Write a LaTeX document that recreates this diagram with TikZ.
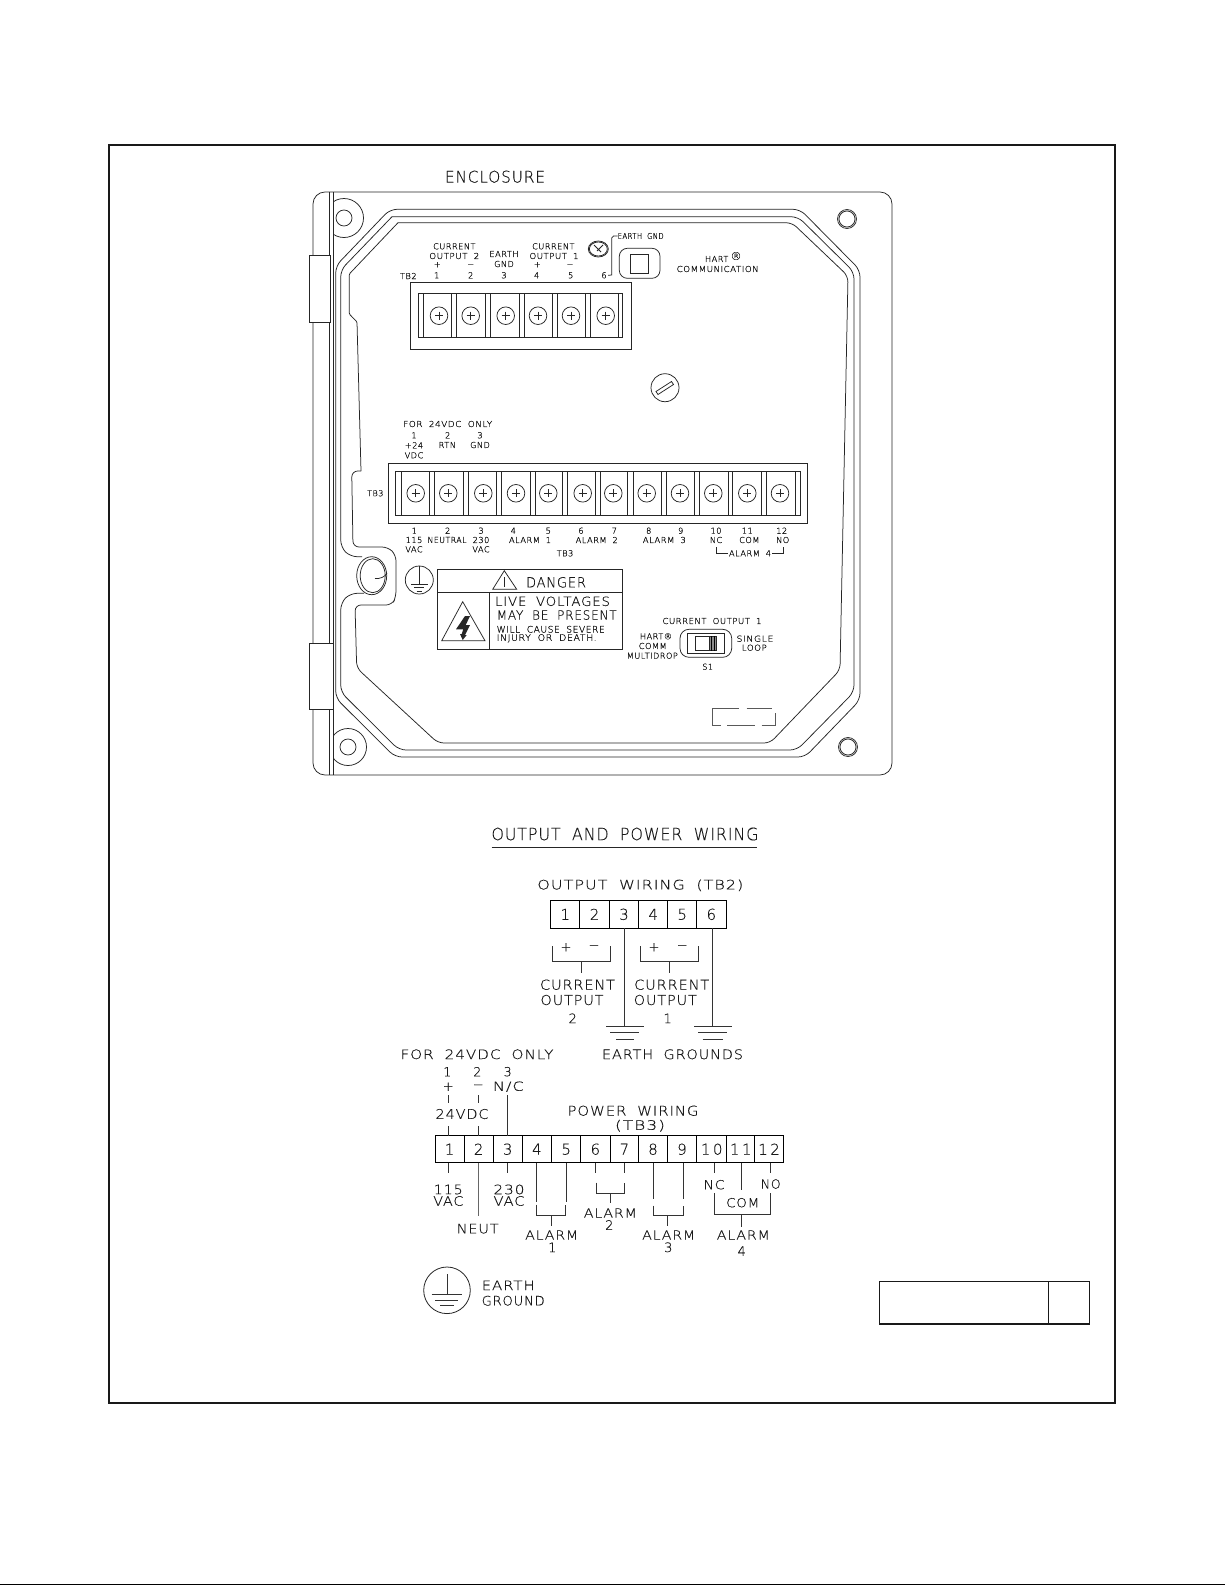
\documentclass[tikz,border=0pt]{standalone}
\usepackage{fontspec}
\usepackage{graphicx}
\newfontfamily\cad[LetterSpace=6,FakeBold=0.25,WordSpace=1.9]{DejaVu Sans ExtraLight}
\newfontfamily\cads[LetterSpace=6,FakeBold=0.6,WordSpace=1.9]{DejaVu Sans ExtraLight}
\newcommand\pickf[1]{\ifdim #1pt<10pt\relax\cads\else\cad\fi}
\newcommand\T[6][center]{\node (#2) [lab,anchor=#1] at (#3,#4) {\fontsize{#5}{#5}\selectfont\pickf{#5}#6};}
\newcommand\W[7][center]{\node (#2) [lab,anchor=#1] at (#3,#4) {\fontsize{#5}{#5}\selectfont\pickf{#5}\resizebox{#6pt}{\height}{#7}};}
\newcommand\Tm[7]{\node (#1) [term,minimum width={(#3-#2)*1pt},minimum height={(#5-#4)*1pt}] at ({(#2+#3)/2},{(#4+#5)/2}) {\fontsize{#6}{#6}\selectfont\cad #7};}
\newcommand\Sc[3]{\node (#1) [screw] at (#2,#3) {};\draw[ln] (#2-4,#3) -- (#2+4,#3) (#2,#3-4) -- (#2,#3+4);}
\tikzset{
 ln/.style={line width=0.75pt,draw=black!85},
 wire/.style={line width=0.8pt,draw=black!80},
 lab/.style={inner sep=0pt,outer sep=0pt,text=black!90},
 term/.style={draw=black,line width=1pt,inner sep=0pt,outer sep=0pt,text=black!90},
 screw/.style={draw=black!85,circle,line width=0.75pt,minimum size=17.6pt,inner sep=0pt,outer sep=0pt},
 frameln/.style={line width=2pt,draw=black!90},
}
\begin{document}
\begin{tikzpicture}[x=1pt,y=-1pt]
\useasboundingbox (0,0) rectangle (1225,1585);
\fill[white] (0,0) rectangle (1225,1585);
\fill[black] (0,1583.5) rectangle (1225,1585);
% frame
\draw[frameln] (109,144.7) rectangle (1115,1402.7);
\draw[line width=1.2pt,black!90] (879.3,1281.7) rectangle (1089.3,1324) (1048.3,1281.7) -- (1048.3,1324);
% ---------- enclosure ----------
\W{tEncl}{495}{176.7}{16}{100}{ENCLOSURE}
\draw[ln,rounded corners=12pt] (313,192) rectangle (892,775);
\draw[ln] (329,192) -- (329,775) (333,192) -- (333,775);
\draw[ln,fill=white] (309,255) rectangle (330,322);
\draw[ln,fill=white] (309,643) rectangle (333,709);
% gasket
\draw[ln,rounded corners=7pt] (390,209.3) -- (800,209.3) -- (860,270) -- (860,700) -- (805,757) -- (395,757) -- (335.7,698) -- (335.7,266) -- cycle;
\draw[ln,rounded corners=7pt] (392,216.7) -- (798,216.7) -- (854,272) -- (854,692) -- (797,750) -- (399,750) -- (340.7,692) -- (340.7,603) -- (350,593.3) -- (364,593.3);
\draw[ln,rounded corners=7pt] (362,556.7) -- (350,556.7) -- (340.7,547) -- (340.7,270) -- (392,216.7);
\draw[ln,rounded corners=6pt] (398,222.7) -- (792,222.7) -- (848,276) -- (840,670) -- (770,743) -- (438,743) -- (356.7,668) -- (355,605) -- (392,605) -- (396,597) -- (396,555) -- (388,547) -- (353,547) -- (351.7,471) -- (361,471);
\draw[ln,rounded corners=1pt] (361,471) -- (357,322) -- (349.3,314) -- (349.3,274) -- (398,222.7);
% bump screw
\draw[ln,fill=white] (371.7,575.7) ellipse (15 and 19);
\draw[ln] (372.7,575.7) ellipse (12.5 and 17);
\draw[ln] (375,578.5) .. controls (380,579) and (385,577) .. (387,573);
% corner holes
\begin{scope}\clip (333,190) rectangle (372,245);\draw[ln] (344,218) circle (19.5);\end{scope}
\begin{scope}\clip (333,720) rectangle (372,775);\draw[ln] (348,747) circle (18.5);\end{scope}
\draw[ln] (344,218) circle (8) (348,747) circle (8);
\draw[ln] (847,219) circle (9.5) (847,219) circle (8);
\draw[ln] (848,747) circle (9.5) (848,747) circle (8);
% TB2 block
\draw[ln] (410.7,282.7) rectangle (631.7,349);
\draw[ln] (418.7,293.3) rectangle (622.7,337.7);
\foreach \x in {423.3,451.7,456.7,485.3,490.3,519.3,524.3,552.3,557.3,585.3,590.7,618} \draw[ln] (\x,293.3) -- (\x,337.7);
\Sc{sa1}{439}{315.7}\Sc{sa2}{470.7}{315.7}\Sc{sa3}{505.7}{315.7}\Sc{sa4}{538}{315.7}\Sc{sa5}{571}{315.7}\Sc{sa6}{605.7}{315.7}
% TB2 labels
\T{a1}{454.3}{246.3}{8.2}{CURRENT}
\W{a2}{454.3}{256}{8.2}{50}{OUTPUT 2}
\T{a3}{437.3}{264.8}{8.2}{+}
\T{a4}{470.7}{265.5}{8.2}{−}
\T{a5}{408.3}{276}{8.2}{TB2}
\T{a6}{436.7}{275.3}{8.2}{1}
\T{a7}{470.7}{275.3}{8.2}{2}
\T{a8}{504}{275.3}{8.2}{3}
\T{a9}{536.7}{275.3}{8.2}{4}
\T{a10}{570.7}{275.3}{8.2}{5}
\T{a11}{604}{275.3}{8.2}{6}
\T{a12}{504}{254}{8.2}{EARTH}
\T{a13}{504}{264}{8.2}{GND}
\T{a14}{553.3}{246.3}{8.2}{CURRENT}
\W{a15}{554}{256}{8.2}{49}{OUTPUT 1}
\T{a16}{537.3}{264.8}{8.2}{+}
\T{a17}{570}{265.5}{8.2}{−}
% earth screw + leader
\draw[ln] (598.3,249) ellipse (10 and 8);
\draw[ln] (598.3,249) ellipse (9 and 7);
\draw[ln] (594,245) -- (601,252) (603,245) -- (597,251);
\W[west]{a18}{617.7}{236}{8}{46}{EARTH GND}
\draw[ln] (a11.east) ++(1.5,0) -- (611.7,275) -- (611.7,238) -- (613.5,236) -- (a18.west);
\draw[ln,rounded corners=8pt] (619.3,248.3) rectangle (660,278.3);
\draw[ln] (630.7,254) rectangle (648.7,273.3);
\T{a19}{716.7}{259}{8.2}{HART}
\T{a20}{736}{256}{11}{®}
\W{a21}{717.7}{269}{8.2}{82}{COMMUNICATION}
% slotted screw
\draw[ln] (665,387.7) circle (14);
\draw[ln] (656,391.5) -- (671.5,381.5) -- (673.5,384.5) -- (658,394.5) -- cycle;
% TB3 block
\draw[ln] (388.3,463.3) rectangle (807.3,523.3);
\draw[ln] (395.7,471) rectangle (800,515.7);
\foreach \x in {401,429.3,434.3,463.3,468.3,496.7,501.7,530,535,562.7,567.7,595.3,600.3,627.7,633.3,661.3,666.3,694.3,699.3,728,732.7,761.7,766.3,795} \draw[ln] (\x,471) -- (\x,515.7);
\Sc{sb1}{415.7}{493.3}\Sc{sb2}{448.3}{493.3}\Sc{sb3}{483.3}{493.3}\Sc{sb4}{516}{493.3}\Sc{sb5}{548.3}{493.3}\Sc{sb6}{582.7}{493.3}
\Sc{sb7}{613.3}{493.3}\Sc{sb8}{646.7}{493.3}\Sc{sb9}{680}{493.3}\Sc{sb10}{713.3}{493.3}\Sc{sb11}{747.3}{493.3}\Sc{sb12}{780}{493.3}
% TB3 top labels
\W{b1}{447.7}{424}{8.2}{89}{FOR 24VDC ONLY}
\T{b2}{414}{435.3}{8.2}{1}
\T{b3}{447.7}{435.3}{8.2}{2}
\T{b4}{480}{435.3}{8.2}{3}
\T{b5}{414}{445.3}{8.2}{+24}
\T{b6}{447.3}{445}{8.2}{RTN}
\T{b7}{480}{445}{8.2}{GND}
\T{b8}{414}{455.3}{8.2}{VDC}
\T{b9}{375.3}{493.3}{8}{TB3}
% TB3 bottom labels
\T{c1}{414.3}{530.7}{8.2}{1}
\T{c2}{447.7}{530.7}{8.2}{2}
\T{c3}{481}{530.7}{8.2}{3}
\T{c4}{513.3}{530.7}{8.2}{4}
\T{c5}{548.3}{530.7}{8.2}{5}
\T{c6}{581}{530.7}{8.2}{6}
\T{c7}{614.3}{530.7}{8.2}{7}
\T{c8}{648.7}{530.7}{8.2}{8}
\T{c9}{680.7}{530.7}{8.2}{9}
\T{c10}{716}{530.7}{8.2}{10}
\T{c11}{747.3}{530.7}{8.2}{11}
\T{c12}{781.7}{530.7}{8.2}{12}
\T{d1}{414}{540}{8.2}{115}
\W{d2}{447}{540}{8.2}{39}{NEUTRAL}
\T{d3}{481}{540}{8.2}{230}
\W{d4}{530}{540}{8.2}{42}{ALARM 1}
\W{d5}{596.7}{540}{8.2}{42}{ALARM 2}
\W{d6}{664.3}{540}{8.2}{43}{ALARM 3}
\T{d7}{716}{540}{8.2}{NC}
\T{d8}{749.3}{540}{8.2}{COM}
\T{d9}{782.7}{540}{8.2}{NO}
\T{e1}{414}{549.3}{8.2}{VAC}
\T{e2}{481}{549.3}{8.2}{VAC}
\T{e3}{565}{553.3}{8.2}{TB3}
\W{e4}{750}{553.3}{8.2}{42}{ALARM 4}
\draw[ln] (716.7,547.3) -- (716.7,553.3) -- ([xshift=-1pt]e4.west) ([xshift=1pt]e4.east) -- (783.3,553.3) -- (783.3,547.3);
% earth symbol
\node (gsym) [draw=black!85,circle,line width=0.75pt,minimum size=28pt,inner sep=0pt] at (419.3,580) {};
\draw[ln] (gsym.north) -- (419.3,584) (411,584) -- (428.3,584) (414.3,587.7) -- (424.3,587.7) (416.7,591) -- (422.3,591);
% danger plate
\draw[ln] (437.7,569.3) rectangle (622.7,649) (437.7,592.3) -- (622.7,592.3) (489,592.3) -- (489,649);
\draw[ln] (504.3,570.7) -- (492.7,589.3) -- (516.7,589.3) -- cycle;
\draw[ln] (504.5,577) -- (504.5,587);
\W{f1}{556}{582.3}{14}{60}{DANGER}
\draw[ln] (462.7,601.7) -- (441.7,640.7) -- (485,640.7) -- cycle;
\fill[black!85] (465,616) -- (470,616) -- (465.7,625) -- (470,625) -- (465,635) -- (466.7,635) -- (462.7,640) -- (460,634) -- (461.7,634) -- (463.3,629.3) -- (456,629.3) -- cycle;
\W[west]{f2}{495}{601.3}{12.6}{115}{LIVE VOLTAGES}
\W[west]{f3}{496.7}{615}{12.6}{120}{MAY BE PRESENT}
\W[west]{f4}{496.7}{629.3}{9}{108}{WILL CAUSE SEVERE}
\W[west]{f5}{496.7}{638.3}{9}{100}{INJURY OR DEATH.}
% switch
\W{g1}{712}{621}{8.2}{99}{CURRENT OUTPUT 1}
\T{g2}{656}{636.3}{8.2}{HART®}
\T{g3}{652.7}{646}{8.2}{COMM}
\W{g4}{652.3}{655.7}{8.2}{51}{MULTIDROP}
\W{g5}{755}{638.7}{8.2}{37}{SINGLE}
\W{g6}{754.3}{647.7}{8.2}{25}{LOOP}
\T{g7}{707.7}{666.7}{8}{S1}
\draw[ln,rounded corners=9pt] (680,629.3) rectangle (731.7,657.3);
\draw[ln] (687.3,633.7) rectangle (724,653.3);
\draw[ln,fill=black!45] (709,636) rectangle (716.7,650.7);
\draw[ln] (695,636) rectangle (716.7,650.7);
\draw[line width=0.6pt,black] (711.5,636) -- (711.5,650.7) (714,636) -- (714,650.7);
% faint box
\draw[line width=0.6pt,black!65] (739,708.3) -- (712.3,708.3) -- (712.3,725.3) -- (721,725.3) (727.3,725.3) -- (755,725.3) (761.7,725.3) -- (775.7,725.3) -- (775.7,713.3) (746.7,708.3) -- (772.3,708.3);
% ---------- wiring ----------
\W{h1}{625}{834}{17}{267}{OUTPUT AND POWER WIRING}
\draw[ln] (491.7,847.7) -- (757,847.7);
\W{h2}{640.3}{885.3}{13}{206}{OUTPUT WIRING (TB2)}
\Tm{o1}{550.7}{579.7}{900.7}{928}{15}{1}
\Tm{o2}{579.7}{609.3}{900.7}{928}{15}{2}
\Tm{o3}{609.3}{638.7}{900.7}{928}{15}{3}
\Tm{o4}{638.7}{667.7}{900.7}{928}{15}{4}
\Tm{o5}{667.7}{696.7}{900.7}{928}{15}{5}
\Tm{o6}{696.7}{726}{900.7}{928}{15}{6}
\coordinate (g3a) at (o3.south |- 0,1026);
\coordinate (g6a) at ([xshift=1.3pt]o6.south |- 0,1026);
\draw[wire] (o3.south) -- (g3a);
\draw[wire] ([xshift=1.3pt]o6.south) -- (g6a);
\draw[wire] (606,1026) -- (644,1026) (610,1032.7) -- (639.3,1032.7) (616,1039.3) -- (634,1039.3);
\draw[wire] (694,1026.7) -- (731.7,1026.7) (698.3,1032.7) -- (727.3,1032.7) (702.7,1039.3) -- (722.7,1039.3);
\draw[wire] (552,946) -- (552,961.7) -- (610,961.7) -- (610,946) (581,961.7) -- (581,973.3);
\draw[wire] (640,946) -- (640,961.7) -- (698.3,961.7) -- (698.3,946) (669.3,961.7) -- (669.3,973.3);
\T{i1}{566}{947.3}{13}{+}
\T{i2}{594}{947.3}{13}{−}
\T{i3}{654}{947.3}{13}{+}
\T{i4}{682.3}{947.3}{13}{−}
\W{j1}{577.5}{984.7}{13.7}{75}{CURRENT}
\W{j2}{572}{1000}{13.7}{63}{OUTPUT}
\T{j3}{572.7}{1018.3}{13}{2}
\W{j4}{671.7}{984.7}{13.7}{75}{CURRENT}
\W{j5}{665.3}{1000}{13.7}{63}{OUTPUT}
\T{j6}{667.7}{1018.3}{13}{1}
\W{j7}{672.5}{1054.3}{13.2}{141}{EARTH GROUNDS}
\W{k1}{477}{1054.3}{13}{153}{FOR 24VDC ONLY}
\T{k2}{447.3}{1071.7}{12.5}{1}
\T{k3}{477.3}{1071.7}{12.5}{2}
\T{k4}{507.7}{1071.7}{12.5}{3}
\T{k5}{448.3}{1086.7}{13}{+}
\T{k6}{478.3}{1086.7}{13}{−}
\W{k7}{508.3}{1086.7}{12.5}{31}{N/C}
\W{k8}{462}{1114}{13.3}{53}{24VDC}
\W{k9}{633}{1110.7}{13.5}{131}{POWER WIRING}
\W{k10}{640}{1125.7}{13}{50}{(TB3)}
\Tm{p1}{435}{464}{1135.7}{1162.7}{15}{1}
\Tm{p2}{464}{493.3}{1135.7}{1162.7}{15}{2}
\Tm{p3}{493.3}{522}{1135.7}{1162.7}{15}{3}
\Tm{p4}{522}{551.7}{1135.7}{1162.7}{15}{4}
\Tm{p5}{551.7}{580.7}{1135.7}{1162.7}{15}{5}
\Tm{p6}{580.7}{610}{1135.7}{1162.7}{15}{6}
\Tm{p7}{610}{638.7}{1135.7}{1162.7}{15}{7}
\Tm{p8}{638.7}{667.3}{1135.7}{1162.7}{15}{8}
\Tm{p9}{667.3}{696.7}{1135.7}{1162.7}{15}{9}
\Tm{p10}{696.7}{726.7}{1135.7}{1162.7}{15}{1\,0}
\Tm{p11}{726.7}{754.7}{1135.7}{1162.7}{15}{1\,1}
\Tm{p12}{754.7}{783.3}{1135.7}{1162.7}{15}{1\,2}
% top stubs
\draw[wire] (448.3,1095) -- (448.3,1103.3) (478,1095) -- (478,1103.3);
\draw[wire] ([xshift=-1.2pt]p1.north) -- ++(0,-10);
\draw[wire] ([xshift=-1.2pt]p2.north) ++(1.2,0) -- ++(0,-10);
\draw[wire] (p3.north) -- ++(0,-40.7);
% bottom stubs
\draw[wire] ([xshift=-1.2pt]p1.south) -- ++(0,10);
\draw[wire,line width=1.2pt,black!60] (p2.south) -- ++(0,53);
\draw[wire] (p3.south) -- ++(0,10);
\W{l1}{448.3}{1189.5}{13}{29}{115}
\W{l2}{448.3}{1201}{13}{30}{VAC}
\W{l3}{509}{1189.5}{13}{31}{230}
\W{l4}{509}{1201}{13}{31}{VAC}
\W{l5}{477.7}{1228.7}{13}{42}{NEUT}
\draw[wire] (p4.south) -- ++(0,39) (p5.south) -- ++(0,39) (p4.south) ++(0,42) -- ++(0,10.3) -- ++(28.8,0) -- ++(0,-10.3) (551.7,1215) -- (551.7,1225.7);
\W{l6}{551.7}{1235}{12.5}{53}{ALARM}
\T{l7}{552.3}{1247.3}{13}{1}
\draw[wire] (p6.south) -- ++(0,10) (p7.south) -- ++(0,10) (596,1182.7) -- (596,1193.3) -- (624.3,1193.3) -- (624.3,1182.7) (610,1193.3) -- (610,1203.3);
\W{l8}{610.3}{1213}{12.5}{53}{ALARM}
\T{l9}{609.3}{1225}{13}{2}
\draw[wire] (p8.south) -- ++(0,36.6) ([xshift=1.3pt]p9.south) -- ++(0,36.6) (653.3,1205.7) -- (653.3,1215) -- (683.3,1215) -- (683.3,1205.7) (667.7,1215) -- (667.7,1225.7);
\W{l10}{668.7}{1235}{12.5}{53}{ALARM}
\T{l11}{668.3}{1247.3}{13}{3}
\draw[wire] ([xshift=2.3pt]p10.south) -- ++(0,10) ([xshift=1pt]p11.south) -- ++(0,27.3) ([xshift=1.7pt]p12.south) -- ++(0,10);
\draw[wire] (714,1193.3) -- (714,1214.3) -- (770.7,1214.3) -- (770.7,1193.3) (741.7,1214.3) -- (741.7,1226.7);
\W{l12}{714}{1184.7}{12.5}{21}{NC}
\W{l13}{770.7}{1184}{12.5}{20}{NO}
\W{l14}{742.7}{1202.7}{12.5}{33}{COM}
\W{l15}{743.3}{1235}{12.5}{53}{ALARM}
\T{l16}{741.7}{1251}{13}{4}
% big earth symbol
\node (gbig) [draw=black!85,circle,line width=0.8pt,minimum size=46.6pt,inner sep=0pt] at (447,1290.3) {};
\draw[wire] (447,1274.3) -- (447,1294.3) (431.7,1294.3) -- (461.7,1294.3) (435,1300) -- (458.3,1300) (440,1305.7) -- (454.3,1305.7);
\W[west]{m1}{481.7}{1285.3}{13}{53}{EARTH}
\W[west]{m2}{481.7}{1300.7}{13}{63}{GROUND}
\end{tikzpicture}
\end{document}
